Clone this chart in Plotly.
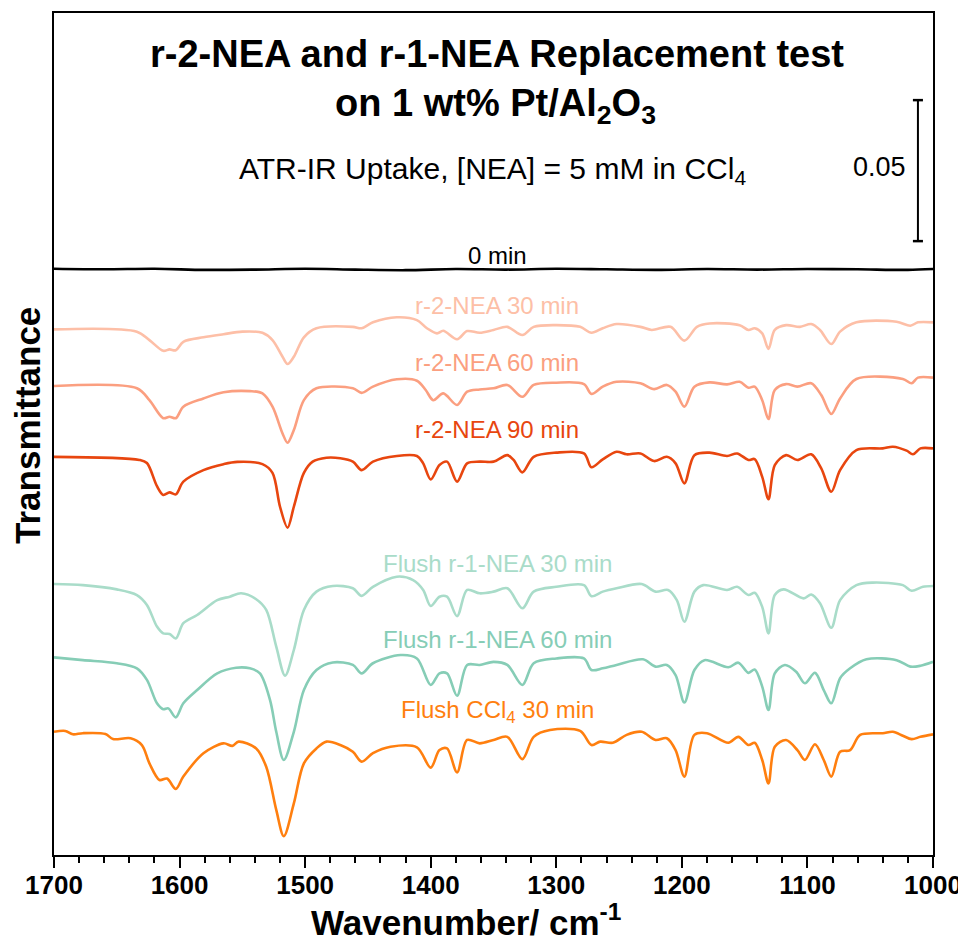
import numpy as np
import plotly.graph_objects as go

# ---------------- data (transmittance, in units of 1e-3, stacked as in the figure) --------------
wn_0 = [1700, 1660, 1620, 1580, 1540, 1500, 1460, 1420, 1380, 1340, 1300, 1260, 1220, 1180, 1140, 1100, 1060, 1020, 1000]
t_0 = [207.9, 207.7, 207.9, 207.5, 207.6, 207.9, 207.6, 207.4, 207.8, 207.6, 207.9, 207.7, 207.5, 207.8, 207.6, 207.8, 207.7, 207.5, 207.8]

wn_r2_30 = [1700, 1634, 1624, 1613, 1608, 1603, 1597, 1581, 1565, 1550, 1534, 1526, 1518, 1514, 1509, 1501, 1491,
            1462, 1455, 1446, 1427, 1411, 1403, 1395, 1390, 1379, 1371, 1361, 1350, 1339, 1327, 1318, 1300, 1281,
            1272, 1263, 1252, 1233, 1224, 1209, 1198, 1188, 1178, 1154, 1147, 1142, 1136, 1131, 1126, 1117, 1106,
            1097, 1090, 1081, 1074, 1061, 1029, 1018, 1012, 1000]
t_r2_30 = [186.4, 185.6, 182.6, 178.8, 179.3, 179.0, 182.0, 183.6, 184.7, 185.6, 185.2, 182.6, 176.7, 174.1, 176.7, 183.6, 186.8,
           187.3, 186.8, 188.9, 190.7, 189.7, 186.8, 185.0, 185.9, 182.9, 185.8, 185.2, 186.2, 187.3, 184.4, 187.3, 187.9, 187.3,
           185.2, 186.8, 188.3, 187.3, 186.2, 187.3, 182.4, 187.3, 188.5, 187.9, 186.2, 186.8, 185.0, 179.5, 186.2, 187.9, 187.3,
           188.3, 186.2, 181.2, 185.6, 188.9, 189.1, 187.7, 188.9, 188.9]

wn_r2_60 = [1700, 1634, 1624, 1613, 1608, 1603, 1597, 1581, 1565, 1544, 1534, 1526, 1518, 1514, 1509, 1501, 1491,
            1462, 1455, 1446, 1427, 1411, 1404, 1398, 1390, 1379, 1371, 1361, 1350, 1339, 1327, 1318, 1300, 1278,
            1272, 1263, 1252, 1233, 1222, 1212, 1205, 1198, 1190, 1178, 1164, 1154, 1147, 1142, 1136, 1131, 1126,
            1117, 1108, 1097, 1089, 1081, 1074, 1061, 1024, 1017, 1012, 1000]
t_r2_60 = [166.3, 165.5, 161.3, 154.9, 155.4, 154.9, 159.0, 161.9, 164.1, 164.5, 163.7, 159.0, 149.5, 146.2, 150.7, 161.3, 165.5,
           165.5, 163.9, 166.1, 168.7, 168.2, 164.9, 161.3, 163.7, 159.6, 164.3, 165.1, 165.5, 166.7, 162.5, 166.7, 167.5, 167.0,
           163.5, 166.1, 167.8, 167.3, 165.2, 166.7, 164.3, 159.0, 166.1, 167.6, 166.9, 167.8, 165.7, 166.1, 161.3, 154.6, 164.9,
           167.0, 166.1, 167.3, 163.1, 156.4, 161.9, 168.8, 168.8, 167.3, 169.3, 169.3]

wn_r2_90 = [1700, 1632, 1626, 1618, 1613, 1608, 1603, 1597, 1581, 1565, 1554, 1534, 1526, 1520, 1514, 1509, 1501, 1494,
            1483, 1472, 1462, 1455, 1446, 1427, 1411, 1406, 1400, 1393, 1387, 1379, 1371, 1361, 1350, 1339, 1334,
            1327, 1318, 1300, 1278, 1272, 1263, 1252, 1244, 1233, 1222, 1212, 1205, 1198, 1190, 1178, 1164, 1156,
            1147, 1142, 1136, 1131, 1126, 1117, 1108, 1097, 1089, 1081, 1074, 1061, 1040, 1032, 1021, 1016, 1010, 1000]
t_r2_90 = [141.2, 140.1, 139.0, 130.8, 127.7, 128.6, 127.9, 132.4, 136.5, 138.6, 139.4, 138.6, 135.5, 123.5, 116.1, 123.5, 135.5, 139.5,
           140.9, 140.7, 139.5, 136.5, 139.5, 141.5, 141.5, 138.9, 133.2, 138.3, 139.5, 132.4, 138.9, 139.5, 139.5, 141.8, 140.1,
           135.7, 141.2, 142.7, 142.4, 137.5, 140.3, 143.0, 142.1, 142.4, 139.7, 141.2, 138.9, 131.8, 141.8, 142.7, 141.5, 142.4,
           140.1, 140.4, 134.1, 126.2, 138.3, 141.8, 140.1, 142.1, 137.1, 128.8, 136.5, 143.6, 144.2, 144.8, 143.4, 142.1, 144.2, 144.2]

wn_f1_30 = [1700, 1677, 1650, 1634, 1626, 1618, 1613, 1608, 1603, 1597, 1586, 1570, 1560, 1551, 1539, 1531, 1523, 1516,
            1509, 1501, 1491, 1478, 1462, 1455, 1446, 1427, 1414, 1406, 1400, 1393, 1387, 1379, 1371, 1361, 1350,
            1339, 1327, 1318, 1300, 1278, 1272, 1263, 1252, 1232, 1221, 1211, 1204, 1198, 1190, 1183, 1164, 1156,
            1147, 1142, 1136, 1131, 1126, 1119, 1103, 1097, 1090, 1081, 1074, 1061, 1048, 1024, 1017, 1008, 1000]
t_f1_30 = [96.1, 95.7, 94.2, 92.2, 88.7, 81.0, 78.6, 78.4, 76.8, 82.2, 85.1, 90.4, 91.6, 92.8, 90.7, 86.9, 73.9, 63.6,
           72.7, 86.9, 93.4, 95.4, 94.6, 91.9, 95.1, 98.7, 97.5, 94.0, 88.3, 91.6, 91.6, 84.7, 94.0, 92.8, 93.4,
           94.6, 87.5, 93.4, 95.1, 95.7, 91.8, 93.4, 94.6, 96.1, 93.4, 94.0, 90.4, 82.7, 93.4, 95.7, 94.0, 95.1,
           92.2, 93.0, 88.0, 78.6, 92.2, 94.2, 91.0, 92.4, 89.3, 80.6, 90.4, 95.7, 96.6, 95.7, 93.7, 95.1, 95.4]

wn_f1_60 = [1700, 1677, 1650, 1634, 1626, 1618, 1613, 1609, 1603, 1597, 1586, 1570, 1555, 1544, 1536, 1528, 1523, 1517,
            1509, 1501, 1491, 1478, 1462, 1455, 1446, 1424, 1411, 1400, 1393, 1387, 1379, 1371, 1361, 1350, 1339,
            1327, 1318, 1300, 1278, 1272, 1263, 1252, 1231, 1221, 1212, 1205, 1198, 1190, 1182, 1163, 1155, 1147,
            1142, 1136, 1131, 1126, 1118, 1109, 1102, 1094, 1087, 1081, 1074, 1066, 1053, 1029, 1018, 1010, 1000]
t_f1_60 = [70.1, 69.1, 68.0, 66.2, 62.1, 53.8, 51.7, 52.0, 48.8, 53.8, 58.5, 64.4, 66.4, 66.2, 64.4, 55.0, 43.7, 33.7,
           43.7, 58.5, 65.6, 68.3, 67.4, 64.4, 68.0, 70.9, 69.7, 60.3, 64.4, 64.4, 56.5, 67.4, 67.4, 68.5, 67.4,
           60.3, 68.0, 69.7, 69.7, 65.6, 66.2, 67.4, 69.4, 66.8, 67.4, 63.8, 54.1, 65.6, 69.1, 66.6, 68.2, 64.6,
           65.8, 59.7, 51.4, 64.4, 67.4, 65.0, 60.9, 64.6, 58.5, 53.8, 62.7, 66.2, 69.4, 69.1, 66.8, 67.1, 68.5]

wn_ccl4 = [1700, 1691, 1685, 1677, 1659, 1653, 1639, 1630, 1624, 1616, 1610, 1603, 1597, 1581, 1565, 1558, 1553, 1539,
           1531, 1523, 1517, 1509, 1501, 1491, 1483, 1472, 1462, 1455, 1446, 1432, 1411, 1400, 1393, 1387, 1379,
           1371, 1361, 1350, 1339, 1327, 1318, 1305, 1281, 1272, 1265, 1255, 1244, 1232, 1221, 1212, 1205, 1198,
           1190, 1180, 1163, 1155, 1147, 1142, 1136, 1131, 1126, 1117, 1108, 1102, 1094, 1087, 1081, 1074, 1066,
           1058, 1040, 1032, 1024, 1017, 1010, 1000]
t_ccl4 = [43.7, 44.0, 42.8, 43.2, 42.9, 41.1, 41.4, 39.0, 32.5, 26.6, 27.1, 23.4, 27.8, 36.1, 39.6, 38.7, 40.2, 37.8,
          31.3, 16.0, 6.7, 18.3, 32.5, 37.8, 40.2, 39.0, 36.6, 33.1, 36.1, 38.4, 38.2, 31.0, 37.2, 37.8, 29.3,
          40.8, 39.6, 40.8, 41.9, 34.0, 41.9, 44.3, 44.0, 39.0, 40.2, 39.8, 42.6, 43.7, 40.8, 41.4, 37.2, 27.8,
          42.6, 43.2, 39.8, 41.9, 39.0, 39.8, 33.7, 25.4, 38.4, 40.8, 37.2, 33.7, 39.3, 33.7, 27.8, 36.6, 37.2,
          42.6, 43.2, 43.7, 42.3, 41.1, 41.9, 42.8]

series_names = ["0 min", "r-2-NEA 30 min", "r-2-NEA 60 min", "r-2-NEA 90 min",
                "Flush r-1-NEA 30 min", "Flush r-1-NEA 60 min", "Flush CCl<sub>4</sub> 30 min"]
series_x = [wn_0, wn_r2_30, wn_r2_60, wn_r2_90, wn_f1_30, wn_f1_60, wn_ccl4]
series_y = [t_0, t_r2_30, t_r2_60, t_r2_90, t_f1_30, t_f1_60, t_ccl4]
series_colors = ["#000000", "#FDBFA7", "#FB9F80", "#E8460F", "#A9DCC9", "#86CDB6", "#FF7F0F"]
series_widths = [2.6, 2.6, 2.6, 2.6, 2.6, 2.6, 2.6]

# label positions (paper y of label centres)
label_y = [0.712, 0.653, 0.585, 0.505, 0.346, 0.256, 0.171]

# scale bar (0.05 units)
scale_x = 1012
scale_bottom = 0.2177
scale_len = 0.05

tick_vals = [1700, 1600, 1500, 1400, 1300, 1200, 1100, 1000]

FONT = "Liberation Sans, Arial, sans-serif"

fig = go.Figure()
for name, xs, ys, col, w in zip(series_names, series_x, series_y, series_colors, series_widths):
    fig.add_trace(go.Scatter(
        x=xs, y=np.array(ys) / 1000.0, mode="lines", name=name,
        line=dict(color=col, width=w, shape="spline", smoothing=0.9),
        showlegend=False, hoverinfo="skip"))

# curve labels
for name, col, ly in zip(series_names, series_colors, label_y):
    fig.add_annotation(x=0.504, y=ly, xref="paper", yref="paper", text=name, showarrow=False,
                       font=dict(family=FONT, size=24, color=col), xanchor="center", yanchor="middle")

# scale bar
cap = 4
fig.add_shape(type="line", x0=scale_x, x1=scale_x, y0=scale_bottom, y1=scale_bottom + scale_len,
              xref="x", yref="y", line=dict(color="black", width=2))
for yy in (scale_bottom, scale_bottom + scale_len):
    fig.add_shape(type="line", x0=scale_x + cap, x1=scale_x - cap, y0=yy, y1=yy,
                  xref="x", yref="y", line=dict(color="black", width=2.5))
fig.add_annotation(x=0.972, y=0.817, xref="paper", yref="paper", text="0.05", showarrow=False,
                   font=dict(family=FONT, size=27, color="black"), xanchor="right", yanchor="middle")

# titles
fig.add_annotation(x=0.5045, y=0.951, xref="paper", yref="paper",
                   text="<b>r-2-NEA and r-1-NEA Replacement test</b>", showarrow=False,
                   font=dict(family=FONT, size=38, color="black"), xanchor="center", yanchor="middle")
fig.add_annotation(x=0.5028, y=0.890, xref="paper", yref="paper",
                   text="<b>on 1 wt% Pt/Al<sub>2</sub>O<sub>3</sub></b>", showarrow=False,
                   font=dict(family=FONT, size=38, color="black"), xanchor="center", yanchor="middle")
fig.add_annotation(x=0.4989, y=0.813, xref="paper", yref="paper",
                   text="ATR-IR Uptake, [NEA] = 5 mM in CCl<sub>4</sub>", showarrow=False,
                   font=dict(family=FONT, size=30, color="black"), xanchor="center", yanchor="middle")

# axis titles
fig.add_annotation(x=0.4687, y=-0.077, xref="paper", yref="paper",
                   text="<b>Wavenumber/ cm<sup>-1</sup></b>", showarrow=False,
                   font=dict(family=FONT, size=35, color="black"), xanchor="center", yanchor="middle")
fig.add_annotation(x=-0.0296, y=0.5107, xref="paper", yref="paper",
                   text="<b>Transmittance</b>", showarrow=False, textangle=-90,
                   font=dict(family=FONT, size=35, color="black"), xanchor="center", yanchor="middle")

# page body has an 8 px margin: figure is 8 px smaller so the plot area lands where the reference has it
fig.update_layout(
    width=958, height=941,
    margin=dict(l=46, r=33, t=5, b=94),
    plot_bgcolor="white", paper_bgcolor="white",
    font=dict(family=FONT, color="black"),
)
fig.update_xaxes(
    range=[1700, 1000], tickvals=tick_vals, ticktext=["<b>%d</b>" % v for v in tick_vals],
    ticks="outside", ticklen=11, tickwidth=2, tickcolor="black",
    tickfont=dict(family=FONT, size=26, color="black"),
    ticklabelstandoff=-5,
    minor=dict(dtick=20, ticks="outside", ticklen=6, tickwidth=2, tickcolor="black", tick0=1000),
    showline=True, linewidth=2, linecolor="black", mirror=True,
    showgrid=False, zeroline=False, automargin=False,
)
fig.update_yaxes(
    range=[0, 0.2986], showticklabels=False, ticks="",
    showline=True, linewidth=2, linecolor="black", mirror=True,
    showgrid=False, zeroline=False, automargin=False,
)

fig.write_html("out.html")
